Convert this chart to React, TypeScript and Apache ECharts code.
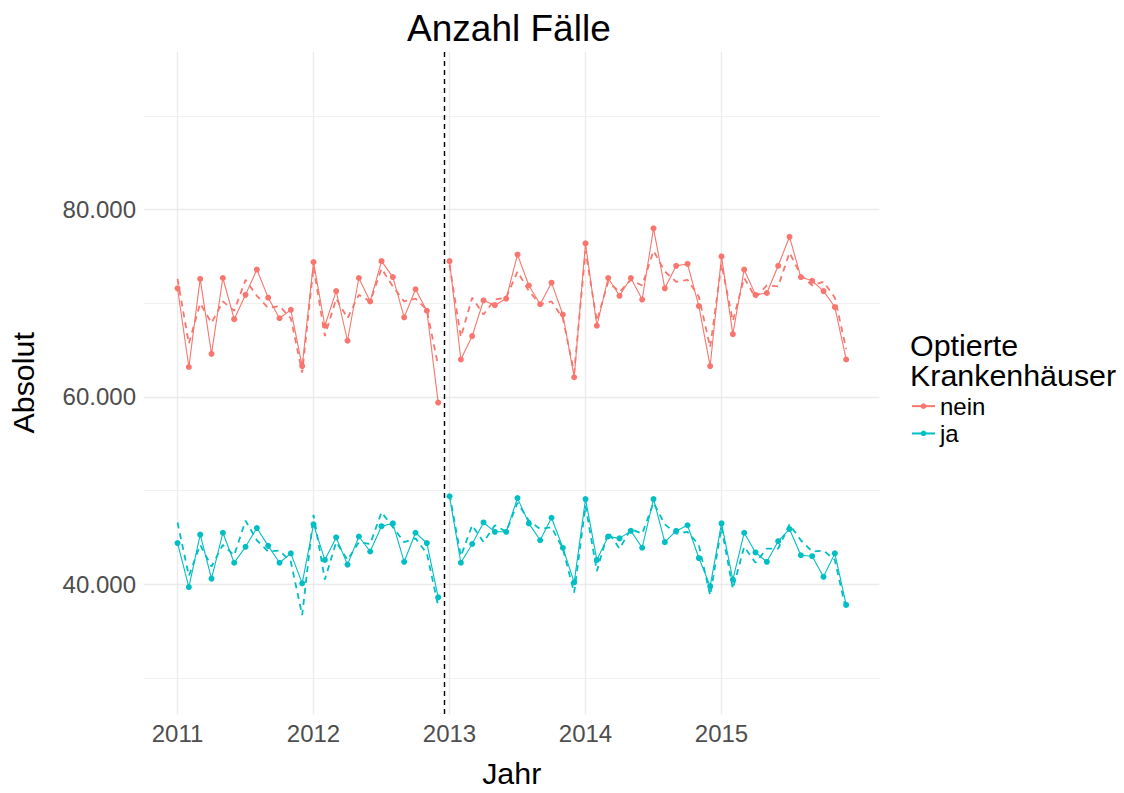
import { useEffect, useRef } from "react";
import * as echarts from "echarts";

const startYear = 2011;
const yearTicks = [2011, 2012, 2013, 2014, 2015];
const yMajorTicks = [40000, 60000, 80000];
const yMinorTicks = [30000, 50000, 70000, 90000];
const breakIndex = 24; // first month of 2013
const cutoffYear = 2012.96;

// monthly values, Jan 2011 .. Dec 2015
const neinIst = [
  71600, 63200, 72600, 64600, 72700, 68300, 70900, 73600, 70600, 68400, 69300, 63300,
  74400, 67600, 71300, 66000, 72700, 70200, 74500, 72800, 68500, 71500, 69200, 59400,
  74500, 64000, 66500, 70300, 69800, 70500, 75200, 71900, 69900, 72200, 68800, 62100,
  76400, 67600, 72700, 70800, 72700, 70400, 78000, 71600, 74000, 74200, 69700, 63300,
  75000, 66700, 73600, 70900, 71100, 74000, 77100, 72800, 72400, 71300, 69600, 64000,
];
const neinModell = [
  72600, 65700, 70000, 67900, 70200, 69200, 72500, 70800, 69500, 69700, 68400, 62600,
  73900, 66500, 70500, 68400, 70900, 70200, 73700, 71800, 70200, 70500, 69300, 63300,
  74100, 66400, 70600, 68800, 70400, 70600, 73400, 71300, 69900, 70200, 68400, 62600,
  75600, 68100, 72300, 71200, 72500, 71900, 75600, 73400, 72300, 72500, 70700, 65300,
  74200, 68100, 72700, 70600, 71900, 71800, 75400, 73000, 71900, 72300, 70600, 65100,
];
const jaIst = [
  44400, 39700, 45300, 40600, 45500, 42300, 44000, 46000, 44100, 42300, 43300, 40100,
  46400, 42600, 45000, 42100, 45100, 43500, 46200, 46500, 42400, 45500, 44400, 38600,
  49400, 42300, 44300, 46600, 45600, 45600, 49200, 46500, 44700, 47100, 43900, 40200,
  49100, 42600, 45100, 44900, 45700, 43900, 49100, 44500, 45700, 46300, 42800, 39800,
  46500, 40500, 45500, 43400, 42400, 44600, 45900, 43100, 43000, 40800, 43300, 37800,
];
const jaModell = [
  46600, 40900, 44200, 41900, 44200, 43100, 46800, 44700, 43500, 43600, 42400, 36700,
  47400, 40500, 44500, 42600, 44500, 44300, 47700, 46100, 44500, 44900, 43300, 37700,
  49600, 43000, 46300, 44500, 46300, 45600, 48700, 46800, 45900, 46100, 43800, 39100,
  48400, 41400, 45600, 43800, 45900, 45400, 48700, 46400, 45400, 45600, 44200, 38800,
  46100, 39500, 44000, 42300, 43800, 43800, 46400, 44700, 43500, 43600, 42600, 37200,
];

const legendTitleLines = ["Optierte", "Krankenhäuser"];

const groups = [
  { name: "nein", color: "#F8766D", ist: neinIst, modell: neinModell },
  { name: "ja", color: "#00BFC4", ist: jaIst, modell: jaModell },
];

const FONT = "'Liberation Sans', Arial, Helvetica, sans-serif";

const toPoints = (vals: number[], from: number, to: number) =>
  vals.slice(from, to).map((v, i) => [startYear + (from + i) / 12, v]);

export default function App() {
  const ref = useRef<HTMLDivElement>(null);

  useEffect(() => {
    if (!ref.current) return;
    const chart = echarts.init(ref.current, undefined, { renderer: "svg" });

    const xMin = 2010.7535;
    const xMax = 2016.161;
    const yMin = 26150;
    const yMax = 96860;

    const series: any[] = [];
    const segments = [
      [0, breakIndex],
      [breakIndex, neinIst.length],
    ];
    groups.forEach((g) => {
      segments.forEach(([a, b]) => {
        series.push({
          name: g.name + " Modell",
          type: "line",
          data: toPoints(g.modell, a, b),
          showSymbol: false,
          symbol: "none",
          lineStyle: { color: g.color, width: 1.8, type: [6, 5] },
          itemStyle: { color: g.color },
          silent: true,
          z: 2,
        });
      });
    });
    groups.forEach((g, gi) => {
      segments.forEach(([a, b], si) => {
        const s: any = {
          name: g.name,
          type: "line",
          data: toPoints(g.ist, a, b),
          symbol: "circle",
          symbolSize: 6,
          showSymbol: true,
          lineStyle: { color: g.color, width: 1.1 },
          itemStyle: { color: g.color },
          silent: true,
          z: 3,
        };
        if (gi === 0 && si === 0) {
          s.markLine = {
            silent: true,
            symbol: ["none", "none"],
            label: { show: false },
            lineStyle: { color: "#000", type: [5, 4], width: 1.4 },
            data: [{ xAxis: cutoffYear }],
            z: 4,
          };
        }
        series.push(s);
      });
    });

    const legendTitles = legendTitleLines.map((t, i) => ({
      text: t,
      left: 910,
      top: 329.5 + i * 30.6,
      padding: 0,
      textStyle: {
        fontSize: 30.4,
        lineHeight: 30.4,
        fontWeight: "normal",
        color: "#000",
        fontFamily: FONT,
      },
    }));

    chart.setOption({
      animation: false,
      backgroundColor: "#fff",
      textStyle: { fontFamily: FONT },
      title: [
        {
          text: "Anzahl Fälle",
          left: 508.9,
          textAlign: "center",
          top: 10,
          padding: 0,
          textStyle: { fontSize: 37, fontWeight: "normal", color: "#000", fontFamily: FONT },
        },
        ...legendTitles,
      ],
      legend: {
        data: ["nein", "ja"],
        orient: "vertical",
        left: 911,
        top: 392.5,
        padding: 0,
        itemWidth: 23,
        itemHeight: 7,
        itemGap: 0,
        selectedMode: false,
        textStyle: { fontSize: 24, lineHeight: 27.3, color: "#000", fontFamily: FONT },
      },
      grid: { left: 138.4, right: 244.6, top: 51.7, bottom: 70.3, containLabel: false },
      xAxis: {
        type: "value",
        min: xMin,
        max: xMax,
        name: "Jahr",
        nameLocation: "middle",
        nameGap: 44,
        nameTextStyle: { fontSize: 30.4, color: "#000", fontFamily: FONT },
        axisLine: { show: false },
        axisTick: { show: false, customValues: yearTicks },
        axisLabel: {
          customValues: yearTicks,
          margin: 7,
          fontSize: 24,
          color: "#4D4D4D",
          fontFamily: FONT,
          formatter: (v: number) => String(Math.round(v)),
        },
        splitLine: { show: true, lineStyle: { color: "#EBEBEB", width: 1.3 } },
      },
      yAxis: [
        {
          type: "value",
          min: yMin,
          max: yMax,
          name: "Absolut",
          nameLocation: "middle",
          nameGap: 106,
          nameTextStyle: { fontSize: 30.4, color: "#000", fontFamily: FONT },
          axisLine: { show: false },
          axisTick: { show: false, customValues: yMajorTicks },
          axisLabel: {
            customValues: yMajorTicks,
            margin: 8,
            fontSize: 24,
            color: "#4D4D4D",
            fontFamily: FONT,
            formatter: (v: number) => `${Math.round(v / 1000)}.000`,
          },
          splitLine: { show: true, lineStyle: { color: "#EBEBEB", width: 1.3 } },
        },
        {
          type: "value",
          min: yMin,
          max: yMax,
          position: "left",
          axisLine: { show: false },
          axisTick: { show: false, customValues: yMinorTicks },
          axisLabel: { show: false, customValues: yMinorTicks },
          splitLine: { show: true, lineStyle: { color: "#EFEFEF", width: 0.9 } },
        },
      ],
      series,
    });

    return () => chart.dispose();
  }, []);

  return (
    <div
      ref={ref}
      style={{ position: "fixed", left: 0, top: 0, width: 1124, height: 793, background: "#fff" }}
    />
  );
}
